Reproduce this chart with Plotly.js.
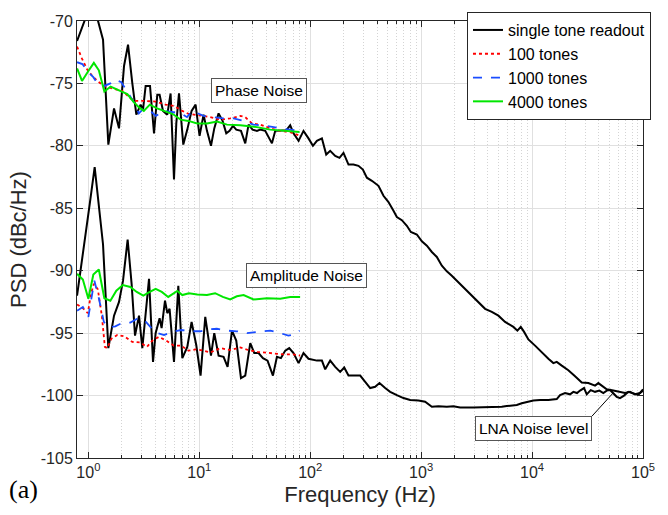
<!DOCTYPE html>
<html>
<head>
<meta charset="utf-8">
<script src="https://cdn.plot.ly/plotly-3.0.1.min.js"></script>
<style>html,body{margin:0;padding:0;background:#fff;}#chart{width:668px;height:515px;}</style>
</head>
<body>
<div id="chart"></div>
<script>
// ---- data (frequency in Hz, PSD in dBc/Hz) ----
const seriesNames = ["single tone readout", "100 tones", "1000 tones", "4000 tones"];

// single tone readout – phase noise
const singlePhaseF = [0.791,1.087,1.356,1.514,1.704,1.890,2.097,2.279,2.491,2.707,2.959,3.111,3.283,3.596,3.908,4.183,4.388,4.710,5.149,5.513,5.917,6.206,6.562,7.177,7.796,8.523,9.262,10.06,10.93,11.73,12.75,13.65,14.93,16.22,17.51,18.75,20.12,21.54,23.76,25.97,27.81,30.22,33.1,35.44,39.31,45.18,48.38,52.9,60.8,66.0,70.7,78.5,87.0,96.5,105.8,114.9,127.5,139.4,151.4,168.0,183.6,199.5,221.3,245.5,272.3,298.4,324.2,359.7,412.5,457.6,507.6,563.1,604.1,670.1,743.3,807.6,914.9,1015,1126,1249,1385,1537,1704,1890,2097,2326,2580,2862,3401,3772,4335,4971,5712,6785,7374,7911,8473,9262,10640,12230,14030,15560,16690,18520,21230,24410,28040,32160,36950,39570,43360,47100,54010,62060,68840,76370,84730,93970,100000];
const singlePhaseV = [-71.6,-68.3,-71.5,-79.9,-77.0,-78.6,-73.6,-71.9,-75.0,-77.5,-76.7,-77.1,-75.2,-75.2,-79.0,-75.9,-75.9,-77.2,-77.5,-75.8,-82.7,-78.2,-75.8,-79.9,-78.7,-77.2,-76.7,-79.2,-77.5,-78.8,-80.0,-78.6,-77.4,-78.0,-79.0,-78.8,-78.4,-78.7,-78.8,-79.8,-78.3,-78.7,-78.8,-78.7,-78.8,-79.8,-78.8,-78.8,-78.75,-78.35,-79.0,-79.6,-78.8,-79.4,-80.0,-79.6,-79.4,-80.7,-80.4,-80.8,-80.96,-80.56,-81.5,-81.5,-81.6,-81.9,-82.55,-82.8,-83.2,-84.0,-84.5,-85.2,-85.7,-85.95,-86.4,-86.9,-87.1,-87.65,-88.0,-88.5,-88.9,-89.6,-90.05,-90.4,-90.8,-91.2,-91.6,-92.0,-92.65,-93.05,-93.3,-93.6,-94.1,-94.5,-94.8,-94.5,-94.9,-95.5,-96.0,-96.55,-97.05,-97.4,-97.3,-97.6,-97.97,-98.45,-98.95,-99.0,-99.2,-99.0,-99.3,-99.5,-99.6,-99.7,-99.8,-99.7,-99.9,-99.8,-99.6];

// single tone readout – amplitude noise
const singleAmpF = [0.791,0.934,1.027,1.140,1.249,1.356,1.514,1.704,1.890,2.054,2.260,2.455,2.634,2.862,3.065,3.332,3.523,3.827,4.040,4.388,4.574,4.909,5.149,5.400,5.917,6.470,7.030,7.796,8.523,9.397,10.27,11.32,12.75,13.65,14.93,16.55,17.99,19.71,21.54,23.76,25.97,28.81,31.30,34.21,37.49,41.24,46.13,50.12,54.45,59.55,64.68,70.7,78.5,87.0,96.5,114.9,127.5,136.5,151.4,168.0,186.3,202.5,221.3,254.3,282.2,313.1,347.2,385.1,421.1,474.0,525.7,604.1,692.6,795.9,945.6,1086,1249,1432,1704,1954,2246,2959,3908,5333,5917,7282,8076,8960,10270,11810,14030,16690,17880,19830,21990,23560,25430,27070,29410,31110,33800,36950,40400,43880,47100,50440,57960,62060,67430,73740,81770,90730,100000];
const singleAmpV = [-92.0,-87.6,-84.7,-81.7,-85.2,-87.9,-96.2,-93.6,-92.5,-90.8,-87.5,-91.05,-95.2,-93.6,-96.2,-92.9,-90.65,-97.3,-95.0,-93.8,-94.6,-92.4,-93.4,-93.05,-97.3,-91.2,-97.0,-96.1,-94.1,-95.97,-98.4,-93.7,-96.8,-95.0,-96.8,-96.9,-97.7,-94.8,-95.6,-98.6,-98.4,-95.8,-96.6,-96.6,-97.0,-97.2,-98.4,-96.9,-97.0,-96.4,-96.2,-96.6,-97.4,-96.6,-97.05,-97.2,-97.2,-97.9,-97.2,-97.7,-98.1,-97.75,-98.4,-98.4,-98.4,-98.9,-99.4,-99.3,-99.0,-99.4,-99.7,-99.96,-100.2,-100.36,-100.4,-100.5,-100.9,-100.85,-100.9,-100.85,-100.95,-100.95,-100.95,-100.9,-100.84,-100.76,-100.62,-100.5,-100.4,-100.36,-100.36,-100.28,-99.96,-99.8,-99.9,-99.7,-99.8,-99.6,-99.4,-99.9,-99.56,-99.7,-99.6,-99.8,-99.6,-99.55,-100.1,-100.2,-100.0,-99.7,-99.8,-99.95,-99.5];

// 100 tones
const t100PhaseF = [0.791,0.874,0.979,1.086,1.205,1.385,1.645,2.024,2.405,2.668,3.176,4.04,4.97,5.916,7.03,8.075,9.94,12.56,15.46,19.02,23.41,25.96,29.85,35.44,43.62,53.67,66.03,78.47];
const t100PhaseV = [-72.05,-73.0,-73.9,-74.4,-74.8,-75.2,-75.4,-75.6,-76.2,-76.4,-76.4,-76.45,-76.7,-76.8,-77.2,-77.45,-77.55,-77.7,-77.9,-77.8,-77.6,-77.7,-78.2,-78.3,-78.6,-78.8,-78.9,-79.15];
const t100AmpF = [0.791,0.892,0.99,1.053,1.121,1.218,1.323,1.408,1.483,1.611,1.825,2.11,2.49,2.94,3.37,3.77,4.32,5.04,5.89,6.88,7.96,9.31,10.85,12.56,15.46,19.0,23.4,27.6,33.4,43.6,57.5,70.7,81.1];
const t100AmpV = [-92.7,-93.0,-93.4,-91.9,-91.05,-91.5,-93.6,-96.1,-96.2,-95.45,-95.15,-95.25,-95.7,-95.75,-96.1,-95.6,-95.3,-95.6,-96.0,-96.0,-96.4,-96.3,-96.4,-96.55,-96.2,-96.35,-96.15,-96.35,-96.5,-96.6,-96.7,-96.7,-96.8];

// 1000 tones
const t1000PhaseF = [0.791,0.883,1.0,1.109,1.205,1.394,1.579,1.751,1.983,2.232,2.570,2.851,3.162,3.62,4.057,4.787,5.71,6.884,7.75,8.65,10.93,13.45,16.55,20.37,25.07,30.8,40.7,53.7,70.7,79.6];
const t1000PhaseV = [-73.3,-73.45,-74.1,-74.5,-75.0,-75.2,-75.0,-74.7,-74.9,-75.6,-76.5,-77.4,-77.0,-77.2,-77.6,-77.2,-77.3,-77.4,-77.7,-77.2,-77.6,-77.7,-77.8,-77.8,-78.0,-78.3,-78.4,-78.6,-78.7,-78.8];
const t1000AmpF = [0.791,0.892,1.0,1.08,1.133,1.243,1.379,1.546,1.751,1.999,2.389,2.763,3.162,3.62,4.18,4.81,5.71,6.88,8.28,10.2,12.06,14.4,17.8,21.8,26.9,33.1,43.6,53.7,63.5,70.7,80.2];
const t1000AmpV = [-93.2,-92.9,-93.7,-91.9,-90.8,-92.2,-94.1,-94.55,-94.45,-94.2,-94.15,-93.85,-93.9,-94.5,-95.0,-95.15,-94.9,-94.75,-94.85,-94.85,-94.7,-94.65,-94.8,-94.85,-95.0,-94.9,-94.8,-95.0,-95.2,-95.1,-94.8];

// 4000 tones
const t4000PhaseF = [0.791,0.877,1.0,1.121,1.243,1.394,1.588,1.902,2.246,2.570,2.851,3.162,3.581,4.168,4.889,5.77,6.785,7.96,9.59,11.73,14.44,17.76,23.41,33.1,43.62,57.5,80.1];
const t4000PhaseV = [-73.8,-74.8,-74.0,-73.35,-73.95,-75.65,-75.25,-75.55,-75.85,-76.5,-76.9,-77.2,-76.7,-77.0,-77.2,-77.45,-77.9,-78.0,-78.2,-78.2,-78.05,-78.3,-78.35,-78.5,-78.7,-78.8,-78.9];
const t4000AmpF = [0.791,0.892,1.0,1.109,1.243,1.394,1.579,1.787,2.045,2.389,2.73,3.127,3.58,4.04,4.59,5.25,6.34,7.03,8.06,9.59,11.73,13.9,16.3,19.0,21.8,25.1,30.8,40.7,53.7,66.0,81.1];
const t4000AmpV = [-90.25,-90.7,-92.25,-90.3,-89.9,-92.2,-92.4,-91.6,-91.15,-91.3,-91.7,-92.0,-91.7,-91.45,-91.7,-92.1,-91.62,-91.95,-91.8,-91.9,-91.95,-91.8,-92.1,-92.3,-92.05,-91.95,-92.3,-92.2,-92.25,-92.1,-92.1];

// axis ticks
const xTickVals = [1, 10, 100, 1000, 10000, 100000];
const xTickText = ["10<sup>0</sup>", "10<sup>1</sup>", "10<sup>2</sup>", "10<sup>3</sup>", "10<sup>4</sup>", "10<sup>5</sup>"];
const xMinorVals = [2,3,4,5,6,7,8,9,20,30,40,50,60,70,80,90,200,300,400,500,600,700,800,900,2000,3000,4000,5000,6000,7000,8000,9000,20000,30000,40000,50000,60000,70000,80000,90000];
const yTickVals = [-105, -100, -95, -90, -85, -80, -75, -70];
const yTickText = ["-105", "-100", "-95", "-90", "-85", "-80", "-75", "-70"];

// ---- styles ----
const styles = [
  {color: "#000000", dash: "solid", width: 2},
  {color: "#ff0000", dash: "dot", width: 1.8},
  {color: "#1a4dff", dash: "dash", width: 1.8},
  {color: "#00e600", dash: "solid", width: 2}
];

function tr(x, y, idx, show) {
  return {x: x, y: y, type: "scatter", mode: "lines", name: seriesNames[idx],
          showlegend: show, line: Object.assign({}, styles[idx]), hoverinfo: "x+y+name"};
}

const traces = [
  tr(singlePhaseF, singlePhaseV, 0, true),
  tr(t100PhaseF, t100PhaseV, 1, true),
  tr(t1000PhaseF, t1000PhaseV, 2, true),
  tr(t4000PhaseF, t4000PhaseV, 3, true),
  tr(singleAmpF, singleAmpV, 0, false),
  tr(t100AmpF, t100AmpV, 1, false),
  tr(t1000AmpF, t1000AmpV, 2, false),
  tr(t4000AmpF, t4000AmpV, 3, false)
];

const axisColor = "#262626";
const font = "Liberation Sans, Arial, Helvetica, sans-serif";

const layout = {
  width: 668, height: 515,
  margin: {l: 77, r: 25, t: 19, b: 57, pad: 0},
  paper_bgcolor: "#ffffff", plot_bgcolor: "#ffffff",
  font: {family: font, size: 16, color: axisColor},
  showlegend: true,
  legend: {
    x: 1.0141, y: 1.0205, xanchor: "right", yanchor: "top",
    bgcolor: "#ffffff", bordercolor: axisColor, borderwidth: 1,
    font: {family: font, size: 16, color: "#000"},
    itemwidth: 30, tracegroupgap: 0
  },
  xaxis: {
    type: "log", range: [Math.log10(0.79), 5],
    tickmode: "array", tickvals: xTickVals, ticktext: xTickText,
    ticks: "inside", ticklen: 6, tickcolor: axisColor, tickwidth: 1,
    showline: true, linecolor: axisColor, linewidth: 1, mirror: "ticks",
    showgrid: true, gridcolor: "#e0e0e0", gridwidth: 1,
    zeroline: false,
    tickfont: {family: font, size: 16, color: axisColor},
    minor: {tickmode: "array", tickvals: xMinorVals,
            ticks: "inside", ticklen: 3, tickcolor: axisColor,
            showgrid: true, gridcolor: "#d4d4d4", griddash: "1px,2px", gridwidth: 1},
    title: {text: "Frequency (Hz)", font: {family: font, size: 22, color: axisColor}, standoff: 6},
    automargin: false
  },
  yaxis: {
    range: [-105, -70],
    tickmode: "array", tickvals: yTickVals, ticktext: yTickText,
    ticks: "inside", ticklen: 6, tickcolor: axisColor, tickwidth: 1,
    showline: true, linecolor: axisColor, linewidth: 1, mirror: "ticks",
    showgrid: true, gridcolor: "#e0e0e0", gridwidth: 1,
    zeroline: false,
    tickfont: {family: font, size: 16, color: axisColor},
    title: {text: "PSD (dBc/Hz)", font: {family: font, size: 22, color: axisColor}, standoff: 8},
    automargin: false
  },
  annotations: [
    {xref: "x", yref: "y", x: Math.log10(34.7), y: -75.53, text: "Phase Noise", showarrow: false,
     font: {family: font, size: 15.5, color: "#000"}, bgcolor: "#ffffff", bordercolor: "#555555", borderwidth: 1, borderpad: 3},
    {xref: "x", yref: "y", x: Math.log10(93), y: -90.37, text: "Amplitude Noise", showarrow: false,
     font: {family: font, size: 15.5, color: "#000"}, bgcolor: "#ffffff", bordercolor: "#555555", borderwidth: 1, borderpad: 3},
    {xref: "x", yref: "y", x: Math.log10(53700), y: -99.8, text: "LNA Noise level", showarrow: true,
     arrowhead: 0, arrowwidth: 1, arrowcolor: "#000", ax: -21, ay: 23, xanchor: "right", yanchor: "top",
     font: {family: font, size: 15.5, color: "#000"}, bgcolor: "#ffffff", bordercolor: "#555555", borderwidth: 1, borderpad: 3},
    {xref: "paper", yref: "paper", x: -0.095, y: -0.072, text: "(a)", showarrow: false,
     xanchor: "center", yanchor: "middle",
     font: {family: "Liberation Serif, Times New Roman, serif", size: 26, color: "#000"}}
  ]
};

Plotly.newPlot("chart", traces, layout, {displayModeBar: false, staticPlot: true});
</script>
</body>
</html>
